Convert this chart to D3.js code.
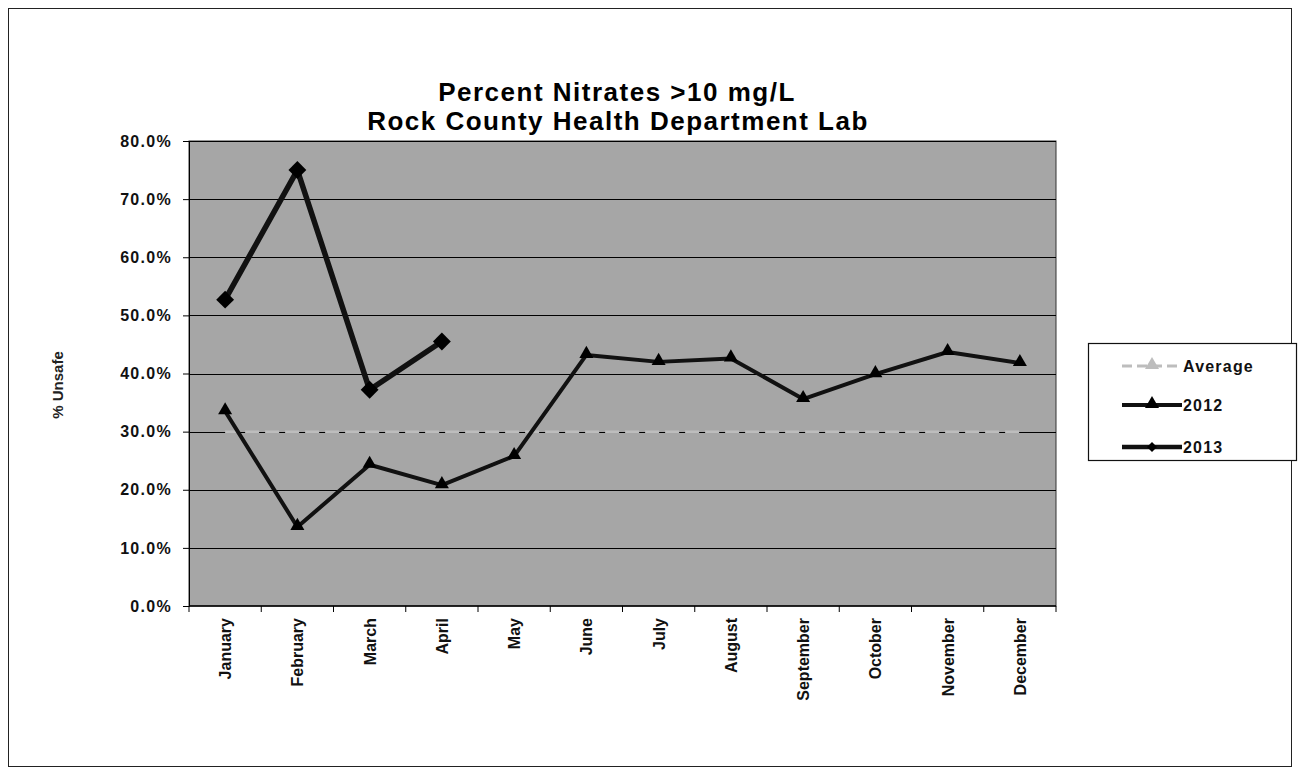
<!DOCTYPE html>
<html>
<head>
<meta charset="utf-8">
<script src="https://cdn.jsdelivr.net/npm/d3@7"></script>
<style>
  body { margin: 0; background: #fff; }
</style>
</head>
<body>
<div id="wrapper"></div>
<script>
width = 1299
height = 775

marginTop = 141 // top of plot, in pixels
marginLeft = 189 // left of plot
plotRight = 1056
plotBottom = 606

var months = ["January", "February", "March", "April", "May", "June",
    "July", "August", "September", "October", "November", "December"]
var avgValues = [0.300, 0.300, 0.300, 0.300, 0.300, 0.300, 0.300, 0.300, 0.300, 0.300, 0.300, 0.300]
var values2012 = [0.335, 0.136, 0.243, 0.208, 0.258, 0.432, 0.420, 0.426, 0.356, 0.399, 0.437, 0.418]
var values2013 = [0.527, 0.750, 0.372, 0.455]
var yTicks = [0, 0.1, 0.2, 0.3, 0.4, 0.5, 0.6, 0.7, 0.8]
var seriesNames = ["Average", "2012", "2013"]

const svg = d3.select("#wrapper").append("svg")
    .attr("width", width)
    .attr("height", height)
    .style("font-family", "Arial, 'Liberation Sans', sans-serif")

// outer frame
svg.append("rect")
    .attr("x", 8.5).attr("y", 8.5)
    .attr("width", 1283).attr("height", 758)
    .attr("fill", "#fff")
    .attr("stroke", "#222")
    .attr("stroke-width", 1)

var x = d3.scaleBand()
    .domain(months)
    .range([marginLeft, plotRight])

var y = d3.scaleLinear()
    .domain([0, 0.8])
    .range([plotBottom, marginTop])

// plot background
svg.append("rect")
    .attr("x", marginLeft).attr("y", marginTop)
    .attr("width", plotRight - marginLeft)
    .attr("height", plotBottom - marginTop)
    .attr("fill", "#a6a6a6")
    .attr("stroke", "#333")
    .attr("stroke-width", 1)

// gridlines
svg.append("g")
    .selectAll("line")
    .data(yTicks.slice(1))
    .join("line")
    .attr("x1", marginLeft).attr("x2", plotRight)
    .attr("y1", d => Math.round(y(d)) + 0.5)
    .attr("y2", d => Math.round(y(d)) + 0.5)
    .attr("stroke", "#000")
    .attr("stroke-width", 1.2)

// y axis
var yAxis = g => g
    .attr("transform", `translate(${marginLeft},0)`)
    .call(d3.axisLeft(y).tickValues(yTicks).tickFormat(d3.format(".1%")).tickSize(6).tickPadding(11))
    .call(g => g.selectAll("text")
        .style("font-size", "16px")
        .style("font-weight", "bold")
        .style("letter-spacing", "1.3px")
        .attr("fill", "#111"))
    .call(g => g.select(".domain").attr("stroke", "#000"))

svg.append("g").call(yAxis)

// x axis, ticks between categories
var xAxis = g => g
    .attr("transform", `translate(0,${plotBottom})`)
    .call(g => g.append("line")
        .attr("x1", marginLeft).attr("x2", plotRight)
        .attr("stroke", "#000").attr("stroke-width", 1.5))
    .call(g => g.selectAll(".tk")
        .data(months.concat(["end"]))
        .join("line")
        .attr("class", "tk")
        .attr("x1", (d, i) => marginLeft + i * x.step())
        .attr("x2", (d, i) => marginLeft + i * x.step())
        .attr("y1", 0).attr("y2", 6)
        .attr("stroke", "#000"))
    .call(g => g.selectAll(".lbl")
        .data(months)
        .join("text")
        .attr("class", "lbl")
        .attr("transform", d => `translate(${x(d) + x.bandwidth() / 2 + 6},12) rotate(-90)`)
        .attr("text-anchor", "end")
        .style("font-size", "16px")
        .style("font-weight", "bold")
        .attr("fill", "#111")
        .text(d => d))

svg.append("g").call(xAxis)

// y title
svg.append("text")
    .attr("transform", "translate(63,385) rotate(-90)")
    .attr("text-anchor", "middle")
    .style("font-size", "15px")
    .style("font-weight", "bold")
    .attr("fill", "#222")
    .text("% Unsafe")

// title
var title = svg.append("g")
    .style("font-size", "26px")
    .style("font-weight", "bold")
    .style("letter-spacing", "1.5px")
    .attr("text-anchor", "middle")
    .attr("fill", "#000")
title.append("text").attr("x", 617).attr("y", 101).text("Percent Nitrates >10 mg/L")
title.append("text").attr("x", 618).attr("y", 130).text("Rock County Health Department Lab")

var cx = (d, i) => x(months[i]) + x.bandwidth() / 2

var line = d3.line()
    .x(cx)
    .y(d => y(d))

// Average series
svg.append("path")
    .datum(avgValues)
    .attr("d", line)
    .attr("fill", "none")
    .attr("stroke", "#bdbdbd")
    .attr("stroke-width", 2.5)
    .attr("stroke-dasharray", "14,6")

// 2012 series
svg.append("path")
    .datum(values2012)
    .attr("d", line)
    .attr("fill", "none")
    .attr("stroke", "#111")
    .attr("stroke-width", 4)
    .attr("stroke-linejoin", "round")

var tri = d3.symbol().type(d3.symbolTriangle).size(85)
svg.append("g")
    .selectAll("path")
    .data(values2012)
    .join("path")
    .attr("d", tri)
    .attr("transform", (d, i) => `translate(${cx(d, i)},${y(d) - 1})`)
    .attr("fill", "#000")

// 2013 series
svg.append("path")
    .datum(values2013)
    .attr("d", line)
    .attr("fill", "none")
    .attr("stroke", "#111")
    .attr("stroke-width", 5.5)
    .attr("stroke-linejoin", "round")

var dia = d3.symbol().type(d3.symbolSquare).size(160)
svg.append("g")
    .selectAll("path")
    .data(values2013)
    .join("path")
    .attr("d", dia)
    .attr("transform", (d, i) => `translate(${cx(d, i)},${y(d)}) rotate(45)`)
    .attr("fill", "#000")

// legend
var legend = svg.append("g")
legend.append("rect")
    .attr("x", 1088.5).attr("y", 343.5)
    .attr("width", 208).attr("height", 117)
    .attr("fill", "#fff")
    .attr("stroke", "#111")
    .attr("stroke-width", 1.2)

var legendY = [366, 405, 447]
seriesNames.forEach((name, i) => {
    var ly = legendY[i]
    legend.append("line")
        .attr("x1", 1122).attr("x2", 1182)
        .attr("y1", ly).attr("y2", ly)
        .attr("stroke", i === 0 ? "#bdbdbd" : "#111")
        .attr("stroke-width", i === 0 ? 3 : i === 1 ? 4 : 4.5)
        .attr("stroke-dasharray", i === 0 ? "10,5" : null)
    legend.append("path")
        .attr("d", i === 2 ? d3.symbol().type(d3.symbolSquare).size(50)() : tri())
        .attr("transform", i === 2 ? `translate(1152,${ly}) rotate(45)` : `translate(1152,${ly - 1})`)
        .attr("fill", i === 0 ? "#bdbdbd" : "#000")
    legend.append("text")
        .attr("x", 1183).attr("y", ly + 6)
        .style("font-size", "16px")
        .style("font-weight", "bold")
        .style("letter-spacing", "1.2px")
        .attr("fill", "#111")
        .text(name)
})
</script>
</body>
</html>
